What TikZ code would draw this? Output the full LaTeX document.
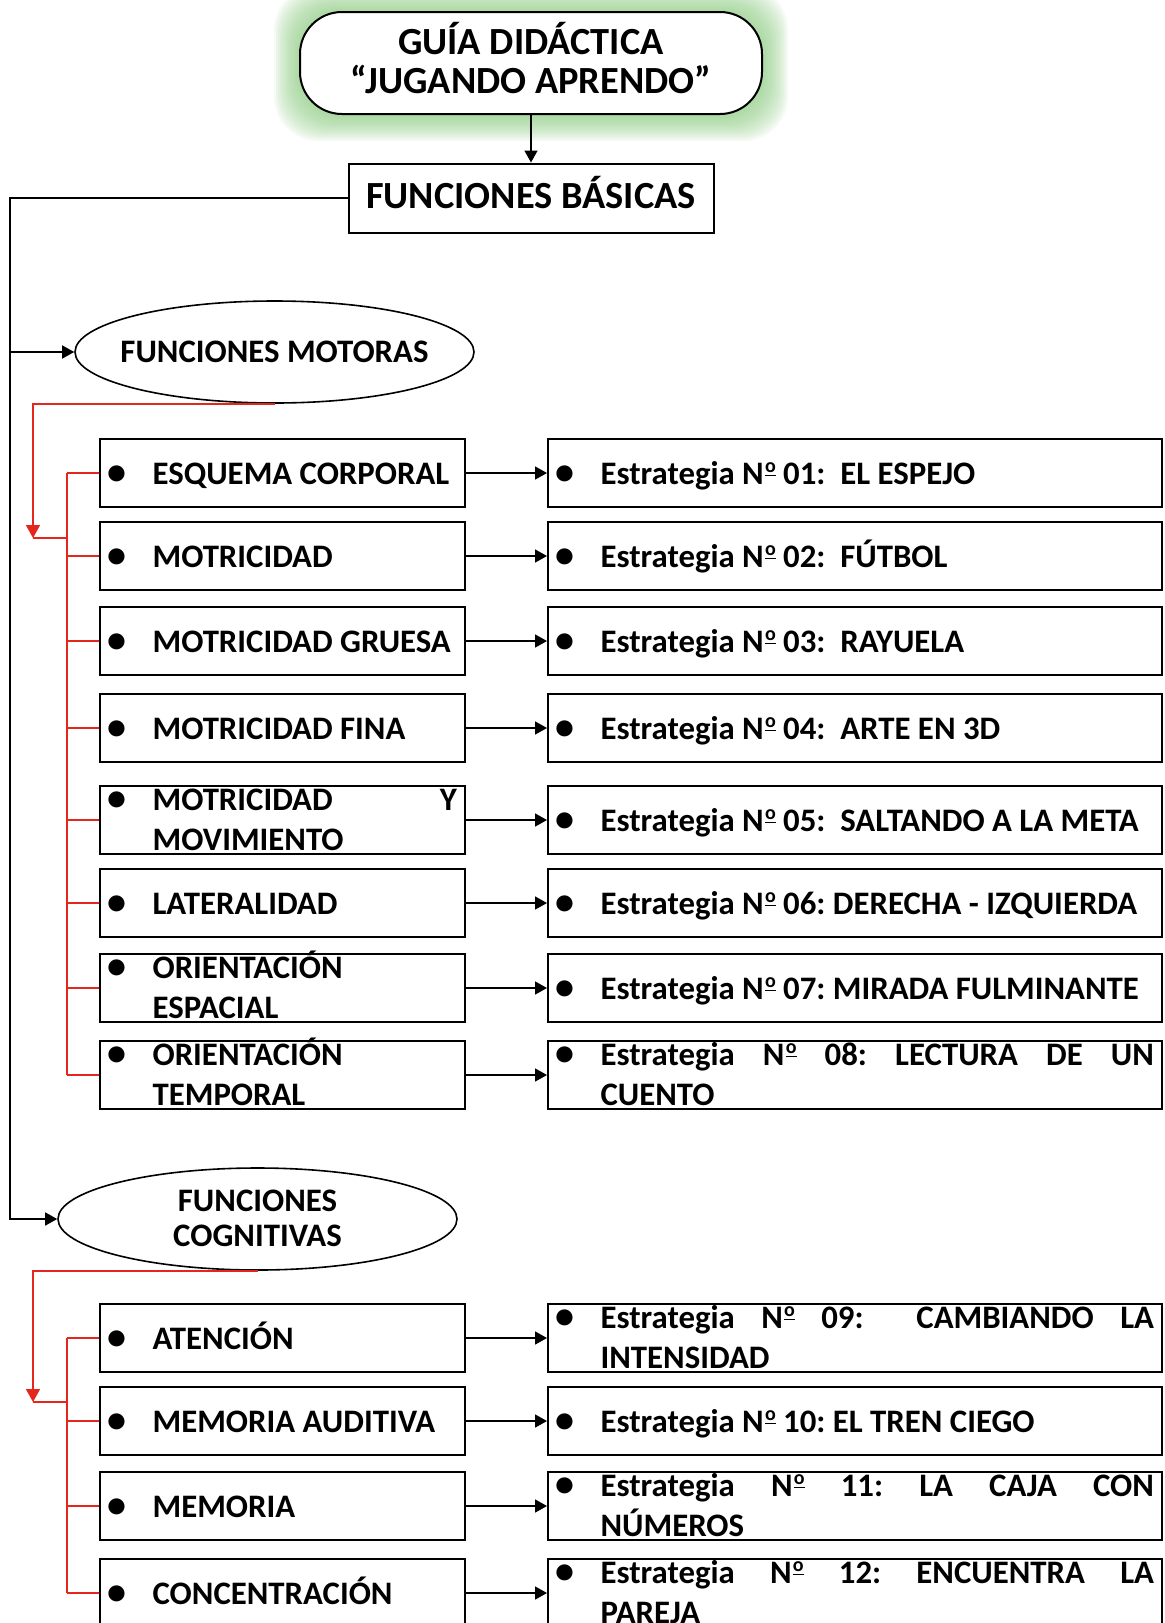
\documentclass[tikz,border=0pt]{standalone}
\usepackage{fontspec}
\setmainfont{Carlito}
\usepackage{xcolor}
\usepackage{tikz}
\usetikzlibrary{arrows.meta,shapes.geometric}
\definecolor{glowcolor}{HTML}{8CCB82}
\definecolor{linkred}{HTML}{E5261C}
\hyphenpenalty=10000
\exhyphenpenalty=10000
\frenchspacing
\newcommand{\bul}{{\fontsize{19}{19}\selectfont\raisebox{-0.3pt}{•}}}
\newcommand{\nro}{N\kern0.6pt\raisebox{5.6pt}{\fontsize{10}{10}\selectfont\underline{o}}}
\newcommand{\itm}[1]{\noindent\makebox[22.3pt][l]{\makebox[8.5pt][c]{\bul}}\mbox{#1}}
\newcommand{\itmm}[2]{\hangindent=22.3pt\hangafter=1\noindent\makebox[22.3pt][l]{\makebox[8.5pt][c]{\bul}}#1\linebreak #2\par}
\tikzset{
  lbox/.style={draw, line width=1pt, fill=white, minimum width=182.5pt, minimum height=34pt, inner xsep=4pt, inner ysep=0pt, text width=174.5pt, align=justify, text height=22.5pt, text depth=11.5pt, font=\bfseries\fontsize{16.4}{20}\selectfont},
  rbox/.style={lbox, minimum width=307pt, text width=299pt},
  twolines/.style={text height=12pt, text depth=22pt},
  funcs/.style={draw, ellipse, line width=0.8pt, fill=white, minimum width=199.5pt, minimum height=51pt, inner sep=0pt, font=\bfseries\fontsize{16.4}{17.5}\selectfont},
  link/.style={line width=0.8pt, -{Triangle[length=6pt,width=6.5pt]}},
  redlink/.style={draw=linkred, line width=0.8pt},
}
\begin{document}
\begin{tikzpicture}[x=0.5pt,y=-0.5pt]%
\useasboundingbox (0,0) rectangle (1165,1623);%
\foreach \g in {1,...,13}{\fill[glowcolor, opacity=0.09, rounded corners=22pt] ({300-2*\g},{12-2*\g}) rectangle ({762+2*\g},{115+2*\g});}%
\node[draw, line width=1pt, fill=white, rounded corners=21pt, minimum width=231pt, minimum height=51pt] (guia) at (531,63) {};%
\node[align=center, inner sep=0pt, font=\bfseries\fontsize{19.2}{19.5}\selectfont] (guiatxt) at ([yshift=2.5pt]guia.center) {GUÍA DIDÁCTICA\\“JUGANDO APRENDO”};%
\node[draw, line width=1pt, fill=white, minimum width=182.5pt, minimum height=34.5pt, text height=10.4pt, text depth=0pt, font=\bfseries\fontsize{19.2}{20}\selectfont] (bas) at (531,198) {FUNCIONES BÁSICAS};%
\node[funcs] (mot) at (274.5,352) {\makebox[0pt]{FUNCIONES MOTORAS}};%
\node[funcs] (cog) at (257.5,1219) {\makebox[0pt]{\raisebox{-5.7pt}[0pt][0pt]{\begin{tabular}{@{}c@{}}FUNCIONES\\COGNITIVAS\end{tabular}}}};%
\node[lbox] (m1) at (282.5,473) {\itm{ESQUEMA CORPORAL}};%
\node[lbox] (m2) at (282.5,556) {\itm{MOTRICIDAD}};%
\node[lbox] (m3) at (282.5,641) {\itm{MOTRICIDAD GRUESA}};%
\node[lbox] (m4) at (282.5,728) {\itm{MOTRICIDAD FINA}};%
\node[lbox, twolines] (m5) at (282.5,820) {\itmm{MOTRICIDAD Y}{MOVIMIENTO}};%
\node[lbox] (m6) at (282.5,903) {\itm{LATERALIDAD}};%
\node[lbox, twolines] (m7) at (282.5,988) {\itmm{ORIENTACIÓN}{ESPACIAL}};%
\node[lbox, twolines] (m8) at (282.5,1075) {\itmm{ORIENTACIÓN}{TEMPORAL}};%
\node[lbox] (c1) at (282.5,1338) {\itm{ATENCIÓN}};%
\node[lbox] (c2) at (282.5,1421) {\itm{MEMORIA AUDITIVA}};%
\node[lbox] (c3) at (282.5,1506) {\itm{MEMORIA}};%
\node[lbox] (c4) at (282.5,1593) {\itm{CONCENTRACIÓN}};%
\node[rbox] (s1) at (855,473) {\itm{Estrategia \nro{} 01: \ EL ESPEJO}};%
\node[rbox] (s2) at (855,556) {\itm{Estrategia \nro{} 02: \ FÚTBOL}};%
\node[rbox] (s3) at (855,641) {\itm{Estrategia \nro{} 03: \ RAYUELA}};%
\node[rbox] (s4) at (855,728) {\itm{Estrategia \nro{} 04: \ ARTE EN 3D}};%
\node[rbox] (s5) at (855,820) {\itm{Estrategia \nro{} 05: \ SALTANDO A LA META}};%
\node[rbox] (s6) at (855,903) {\itm{Estrategia \nro{} 06: DERECHA - IZQUIERDA}};%
\node[rbox] (s7) at (855,988) {\itm{Estrategia \nro{} 07: MIRADA FULMINANTE}};%
\node[rbox, twolines] (s8) at (855,1075) {\itmm{Estrategia \nro{} 08: LECTURA DE UN}{CUENTO}};%
\node[rbox, twolines] (s9) at (855,1338) {\itmm{Estrategia \nro{} 09: \ CAMBIANDO LA}{INTENSIDAD}};%
\node[rbox] (s10) at (855,1421) {\itm{Estrategia \nro{} 10: EL TREN CIEGO}};%
\node[rbox, twolines] (s11) at (855,1506) {\itmm{Estrategia \nro{} 11: LA CAJA CON}{NÚMEROS}};%
\node[rbox, twolines] (s12) at (855,1593) {\itmm{Estrategia \nro{} 12: ENCUENTRA LA}{PAREJA}};%
\coordinate (tr) at (10,199);%
\coordinate (rk1) at (33,538);%
\coordinate (rv1) at (67,538);%
\coordinate (rk2) at (33,1402);%
\coordinate (rv2) at (67,1402);%
\draw[link] (guia) -- (bas);%
\draw[link] (bas.west) -| (tr |- cog.west) -- (cog.west);%
\draw[link] (tr |- mot.west) -- (mot.west);%
\draw[redlink, -{Triangle[length=6.5pt,width=7pt]}] (mot.south) -| (rk1);%
\draw[redlink] (rk1) -- (rv1);%
\draw[redlink] (rv1 |- m1.west) -- (rv1 |- m8.west);%
\draw[redlink] (rv1 |- m1.west) -- (m1.west);%
\draw[redlink] (rv1 |- m2.west) -- (m2.west);%
\draw[redlink] (rv1 |- m3.west) -- (m3.west);%
\draw[redlink] (rv1 |- m4.west) -- (m4.west);%
\draw[redlink] (rv1 |- m5.west) -- (m5.west);%
\draw[redlink] (rv1 |- m6.west) -- (m6.west);%
\draw[redlink] (rv1 |- m7.west) -- (m7.west);%
\draw[redlink] (rv1 |- m8.west) -- (m8.west);%
\draw[redlink, -{Triangle[length=6.5pt,width=7pt]}] (cog.south) -| (rk2);%
\draw[redlink] (rk2) -- (rv2);%
\draw[redlink] (rv2 |- c1.west) -- (rv2 |- c4.west);%
\draw[redlink] (rv2 |- c1.west) -- (c1.west);%
\draw[redlink] (rv2 |- c2.west) -- (c2.west);%
\draw[redlink] (rv2 |- c3.west) -- (c3.west);%
\draw[redlink] (rv2 |- c4.west) -- (c4.west);%
\draw[link] (m1) -- (s1);%
\draw[link] (m2) -- (s2);%
\draw[link] (m3) -- (s3);%
\draw[link] (m4) -- (s4);%
\draw[link] (m5) -- (s5);%
\draw[link] (m6) -- (s6);%
\draw[link] (m7) -- (s7);%
\draw[link] (m8) -- (s8);%
\draw[link] (c1) -- (s9);%
\draw[link] (c2) -- (s10);%
\draw[link] (c3) -- (s11);%
\draw[link] (c4) -- (s12);%
\end{tikzpicture}
\end{document}
